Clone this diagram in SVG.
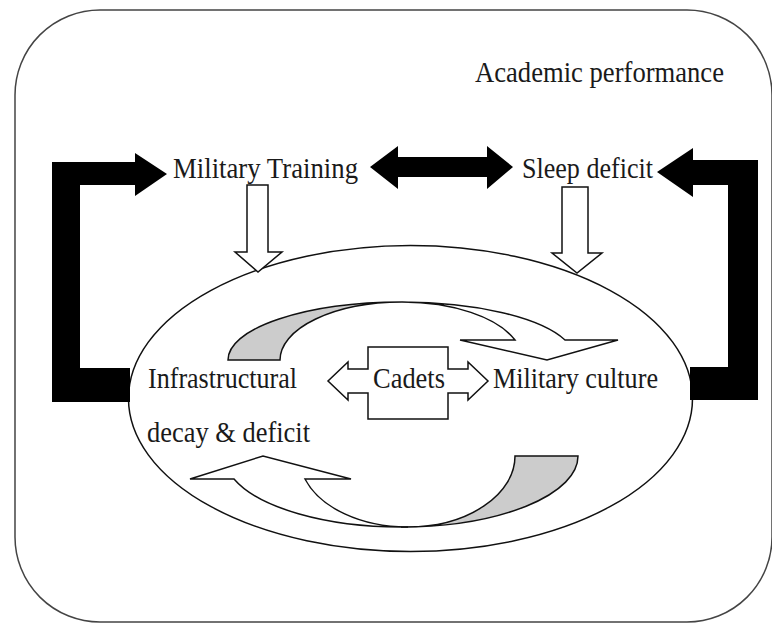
<svg xmlns="http://www.w3.org/2000/svg" width="772" height="624" viewBox="0 0 772 624">
<style>
text{font-family:"Liberation Serif","Times New Roman",serif;font-size:29px;fill:#1a1a1a}
.frame{fill:none;stroke:#444;stroke-width:1.5}
.ol{fill:#fff;stroke:#111;stroke-width:1.5;stroke-linejoin:miter}
.gray{fill:#cccccc;stroke:#111;stroke-width:1.5}
.blk{fill:#000;stroke:none}
</style>
<rect width="772" height="624" fill="#fff"/>
<g id="academic-performance">
<rect class="frame" x="15" y="10" width="757" height="612" rx="85" ry="85"/>
<text x="475" y="82" textLength="249" lengthAdjust="spacingAndGlyphs">Academic performance</text>
</g>
<g id="cadets-environment">
<ellipse class="ol" cx="410.5" cy="398.5" rx="282" ry="153"/>
</g>
<g id="connectors">
<path class="blk" d="M52,162 L135,162 L135,153 L167,174 L135,196 L135,185 L80,185 L80,368 L130,368 L130,402 L52,402 Z"/>
<path class="blk" d="M758,160 L693,160 L693,148 L657,172 L693,197 L693,185 L728,185 L728,367 L690,367 L690,400 L758,400 Z"/>
<path class="blk" d="M370,167 L398,146 L398,157 L487,157 L487,146 L513,167 L487,189 L487,177 L398,177 L398,189 Z"/>
<path class="ol" d="M247,185 L268,185 L268,252 L282,252 L258,272 L235,252 L247,252 Z"/>
<path class="ol" d="M562,187 L588,187 L588,253 L602,253 L577,273 L552,253 L562,253 Z"/>
<path class="gray" d="M228,360 A174,58 0 0 1 402,302 A122,58 0 0 0 280,360 Z"/>
<path class="ol" d="M402,302 A174,58 0 0 1 565,340 L618,340 L547,360 L460,340 L515,340 A120,58 0 0 0 402,302 Z"/>
<path class="gray" d="M578,456 A177,71 0 0 1 401,527 L408,527 A107,71 0 0 0 515,456 Z"/>
<path class="ol" d="M401,527 A177,71 0 0 1 234,479 L190,479 L263,456 L351,479 L305,479 A108,71 0 0 0 408,527 Z"/>
</g>
<g id="military-training"><text x="173" y="178" textLength="185" lengthAdjust="spacingAndGlyphs">Military Training</text></g>
<g id="sleep-deficit"><text x="522" y="178" textLength="131" lengthAdjust="spacingAndGlyphs">Sleep deficit</text></g>
<g id="cadets">
<path class="ol" d="M368,347 L448,347 L448,369 L468,369 L468,362 L488,381 L468,400 L468,393 L448,393 L448,419 L368,419 L368,393 L348,393 L348,400 L328,381 L348,362 L348,369 L368,369 Z"/>
<text x="373" y="388" textLength="72" lengthAdjust="spacingAndGlyphs">Cadets</text>
</g>
<g id="infrastructural-decay">
<text x="148" y="388" textLength="149" lengthAdjust="spacingAndGlyphs">Infrastructural</text>
<text x="147" y="442" textLength="163" lengthAdjust="spacingAndGlyphs">decay &amp; deficit</text>
</g>
<g id="military-culture"><text x="493" y="388" textLength="165" lengthAdjust="spacingAndGlyphs">Military culture</text></g>
</svg>
